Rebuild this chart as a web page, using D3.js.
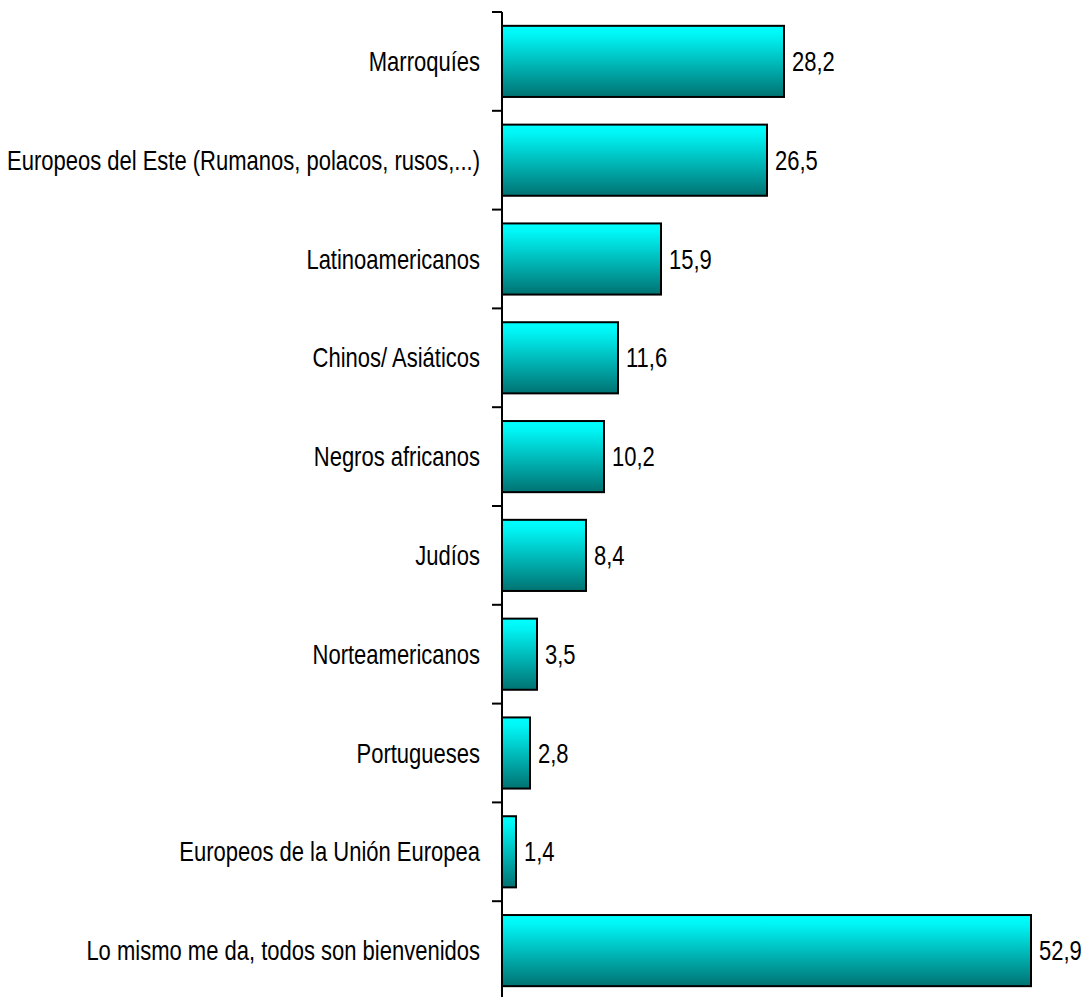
<!DOCTYPE html>
<html>
<head>
<meta charset="utf-8">
<script src="https://cdn.jsdelivr.net/npm/d3@7"></script>
<style>
  body { margin: 0; background: #fff; }
  svg { display: block; }
  text { font-family: "Liberation Sans", Arial, sans-serif; fill: #000; }
</style>
</head>
<body>
<svg id="chart" width="1089" height="997"></svg>
<script>
// categories, top to bottom
var categories = [
  'Marroquíes',
  'Europeos del Este (Rumanos, polacos, rusos,...)',
  'Latinoamericanos',
  'Chinos/ Asiáticos',
  'Negros africanos',
  'Judíos',
  'Norteamericanos',
  'Portugueses',
  'Europeos de la Unión Europea',
  'Lo mismo me da, todos son bienvenidos'
];
var values = [28.2, 26.5, 15.9, 11.6, 10.2, 8.4, 3.5, 2.8, 1.4, 52.9];

var svg = d3.select('#chart');
var axisX = 502;
var stretch = 1.25; // text in the source is drawn taller than wide

var x = d3.scaleLinear().domain([0, 50]).range([axisX, axisX + 500]);
var y = d3.scaleBand()
  .domain(categories)
  .range([12, 1000])
  .paddingInner(0.28)
  .paddingOuter(0.14);

var defs = svg.append('defs');
var grad = defs.append('linearGradient')
  .attr('id', 'barfill')
  .attr('x1', 0).attr('y1', 0).attr('x2', 0).attr('y2', 1);
grad.append('stop').attr('offset', '0').attr('stop-color', '#00ffff');
grad.append('stop').attr('offset', '0.12').attr('stop-color', '#00f6f6');
grad.append('stop').attr('offset', '1').attr('stop-color', '#007272');

// bars
svg.selectAll('rect.bar')
  .data(values)
  .enter().append('rect')
  .attr('class', 'bar')
  .attr('x', x(0))
  .attr('y', function (d, i) { return y(categories[i]); })
  .attr('width', function (d) { return x(d) - x(0); })
  .attr('height', y.bandwidth())
  .attr('fill', 'url(#barfill)')
  .attr('stroke', '#000')
  .attr('stroke-width', 2);

// vertical axis line + ticks at band boundaries
svg.append('line')
  .attr('x1', axisX).attr('x2', axisX)
  .attr('y1', y.range()[0]).attr('y2', 997)
  .attr('stroke', '#000').attr('stroke-width', 2);

var bounds = d3.range(categories.length + 1).map(function (i) {
  return y.range()[0] + i * y.step();
});
svg.selectAll('line.tick')
  .data(bounds)
  .enter().append('line')
  .attr('class', 'tick')
  .attr('x1', axisX - 10).attr('x2', axisX)
  .attr('y1', function (d) { return d; })
  .attr('y2', function (d) { return d; })
  .attr('stroke', '#000').attr('stroke-width', 2);

function stretchedText (sel, tx, ty) {
  return sel.attr('transform', function (d, i) {
    return 'translate(' + tx(d, i) + ',' + ty(d, i) + ') scale(1,' + stretch + ')';
  });
}

// category labels
stretchedText(
  svg.selectAll('text.cat').data(categories).enter().append('text')
    .attr('class', 'cat')
    .attr('text-anchor', 'end')
    .attr('dy', '0.35em')
    .style('font-size', '22px')
    .text(function (d) { return d; }),
  function () { return axisX - 22; },
  function (d) { return y(d) + y.bandwidth() / 2; }
);

// value labels
var fmt = function (v) { return d3.format('.1f')(v).replace('.', ','); };
stretchedText(
  svg.selectAll('text.val').data(values).enter().append('text')
    .attr('class', 'val')
    .attr('dy', '0.35em')
    .style('font-size', '22px')
    .text(fmt),
  function (d) { return x(d) + 8; },
  function (d, i) { return y(categories[i]) + y.bandwidth() / 2; }
);
</script>
</body>
</html>
